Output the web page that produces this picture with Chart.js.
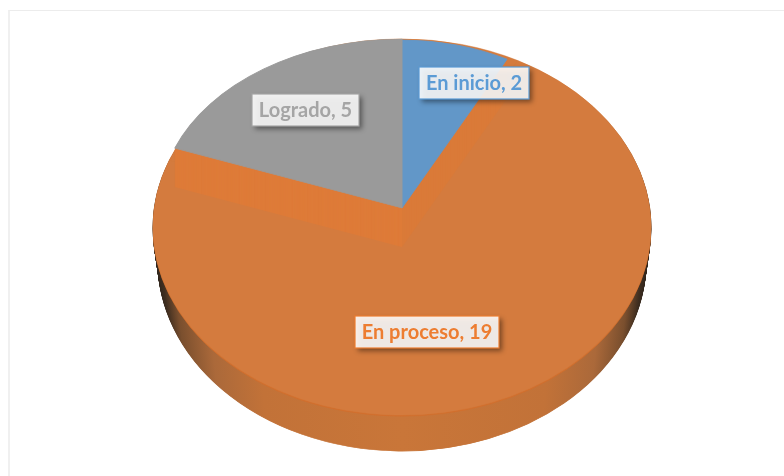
<!DOCTYPE html>
<html><head><meta charset="utf-8">
<script src="https://cdn.jsdelivr.net/npm/chart.js@4"></script>
<style>
html,body{margin:0;padding:0;background:#fff;width:784px;height:476px;overflow:hidden}
#frame{position:absolute;left:8px;top:10px;right:0;bottom:0;border-left:2px solid #f0f0f0;border-top:1px solid #ececec}
canvas{position:absolute;left:0;top:0;filter:blur(0.45px)}
</style></head><body>
<div id="frame"></div>
<canvas id="c" width="784" height="476"></canvas>
<script>
const categories = ["En inicio", "En proceso", "Logrado"];
const values = [2, 19, 5];
const sliceColors = ["#6297c8", "#d47b3e", "#9a9a9a"];
const labelColors = ["#5b9bd5", "#ed7d31", "#a5a5a5"];
const innerWallColors = ["#da7a38", null, "#de7b38"];

// Geometry of the tilted 3D disc
const disc = {cx: 402, cy: 227, rx: 249, ry: 188};
const discBottom = {cx: 402, cy: 261, rx: 244, ry: 190};
const raisedGeo = [
  {cx: 402, cy: 208, rx: 226, ry: 168},
  null,
  {cx: 402, cy: 208, rx: 243, ry: 169}
];
const raisedDrop = 39;
const labelBoxes = [
  {x: 419, y: 67, w: 110, h: 32},
  {x: 355, y: 316, w: 144, h: 32},
  {x: 252, y: 94, w: 107, h: 32}
];

function drawArc(ctx, el, geo, dy, over) {
  const base = el.options;
  const o = Object.create(base);
  Object.assign(o, over);
  el.options = o;
  ctx.save();
  ctx.translate(geo.cx, geo.cy + dy);
  ctx.scale(geo.rx / el.outerRadius, geo.ry / el.outerRadius);
  ctx.translate(-el.x, -el.y);
  el.draw(ctx);
  ctx.restore();
  el.options = base;
}

const pie3d = {
  id: "pie3d",
  beforeDatasetsDraw(chart) {
    const ctx = chart.ctx;
    const arcs = chart.getDatasetMeta(0).data;
    const R = arcs[0].outerRadius, X = arcs[0].x;
    const g = ctx.createLinearGradient(X - R, 0, X + R, 0);
    g.addColorStop(0, "#2e241b");
    g.addColorStop(0.02, "#3f2e20");
    g.addColorStop(0.05, "#7a4f2e");
    g.addColorStop(0.12, "#ab693a");
    g.addColorStop(0.22, "#c27238");
    g.addColorStop(0.5, "#c97639");
    g.addColorStop(0.79, "#c27238");
    g.addColorStop(0.89, "#ab693a");
    g.addColorStop(0.95, "#7a4f2e");
    g.addColorStop(0.98, "#3f2e20");
    g.addColorStop(1, "#2e241b");
    // side wall, from the lower ellipse up to the face
    const steps = 40;
    for (let s = steps; s > 0; s--) {
      const t = s / steps;
      const geo = {
        cx: disc.cx,
        cy: disc.cy + (discBottom.cy - disc.cy) * t,
        rx: disc.rx + (discBottom.rx - disc.rx) * t,
        ry: disc.ry + (discBottom.ry - disc.ry) * t
      };
      arcs.forEach(a => drawArc(ctx, a, geo, 0, {backgroundColor: g, borderColor: g, borderWidth: 1}));
    }
    // rim, visible only below the face
    arcs.forEach(a => drawArc(ctx, a, disc, 1.2, {backgroundColor: "#d26f2e", borderColor: "#d26f2e", borderWidth: 0.6}));
    // face of the disc
    arcs.forEach(a => drawArc(ctx, a, disc, 0, {backgroundColor: sliceColors[1], borderColor: sliceColors[1], borderWidth: 0.6}));
    // inner walls left by the two raised slices
    [0, 2].forEach(i => {
      for (let dy = raisedDrop; dy > 0; dy--) {
        drawArc(ctx, arcs[i], raisedGeo[i], dy, {backgroundColor: innerWallColors[i], borderWidth: 0});
      }
    });
    // raised slices, with an outline of their own colour so the disc does not fringe them
    [0, 2].forEach(i => drawArc(ctx, arcs[i], raisedGeo[i], 0, {backgroundColor: sliceColors[i], borderColor: sliceColors[i], borderWidth: 1}));
    return false;
  },
  afterDraw(chart) {
    const ctx = chart.ctx;
    ctx.save();
    ctx.font = "bold 20px Lato";
    ctx.textAlign = "center";
    ctx.textBaseline = "middle";
    categories.forEach((name, i) => {
      const b = labelBoxes[i];
      ctx.save();
      ctx.shadowColor = "rgba(0,0,0,0.5)";
      ctx.shadowBlur = 5;
      ctx.shadowOffsetX = 3;
      ctx.shadowOffsetY = 3;
      ctx.fillStyle = "rgba(255,255,255,0.88)";
      ctx.fillRect(b.x, b.y, b.w, b.h);
      ctx.restore();
      ctx.strokeStyle = labelColors[i];
      ctx.lineWidth = 1.2;
      ctx.strokeRect(b.x, b.y, b.w, b.h);
      ctx.fillStyle = labelColors[i];
      ctx.fillText(name + ", " + values[i], b.x + b.w / 2, b.y + b.h / 2 + 1);
    });
    ctx.restore();
  }
};

new Chart(document.getElementById("c"), {
  type: "pie",
  data: {labels: categories, datasets: [{data: values, backgroundColor: sliceColors, borderWidth: 0}]},
  options: {
    responsive: false,
    animation: false,
    layout: {padding: 0},
    plugins: {legend: {display: false}, tooltip: {enabled: false}}
  },
  plugins: [pie3d]
});
</script>
</body></html>
